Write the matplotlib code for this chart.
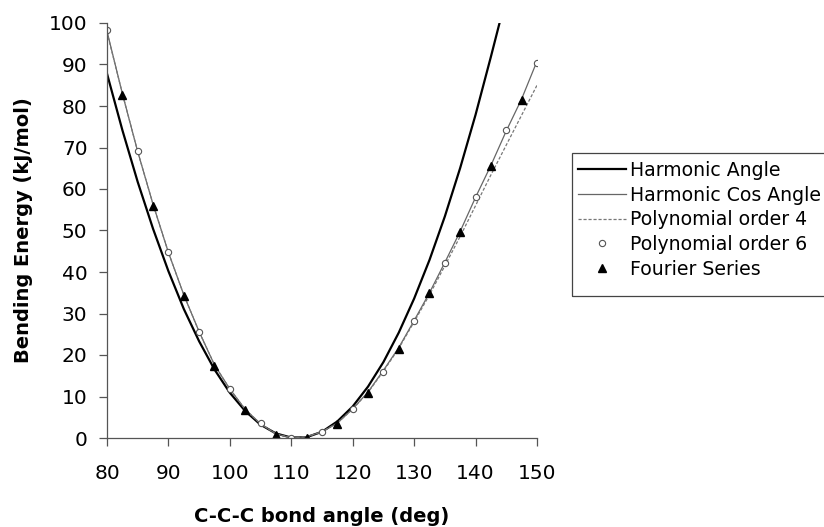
import matplotlib
matplotlib.use("Agg")
import matplotlib.pyplot as plt
from matplotlib.patches import Rectangle

# bond angle grid for the smooth curves (deg)
angle = [80, 82.5, 85, 87.5, 90, 92.5, 95, 97.5, 100, 102.5, 105, 107.5, 110,
         112.5, 115, 117.5, 120, 122.5, 125, 127.5, 130, 132.5, 135, 137.5,
         140, 142.5, 145, 147.5, 150]

harm_angle_x = angle[:26] + [143.9]
harm_angle = [87.8, 74.2, 61.7, 50.4, 40.2, 31.1, 23.3, 16.5, 10.9, 6.5, 3.2,
              1.1, 0.1, 0.2, 1.5, 4.0, 7.6, 12.4, 18.3, 25.4, 33.6, 42.9, 53.4,
              65.1, 77.9, 91.9, 100.0]

harm_cos = [98.0, 83.0, 69.0, 56.3, 44.7, 34.5, 25.6, 17.6, 11.8, 6.9, 3.4,
            1.0, 0.05, 0.3, 1.5, 3.6, 7.0, 11.1, 16.3, 21.8, 28.3, 35.0, 42.3,
            49.8, 58.0, 65.7, 74.0, 81.7, 90.8]

poly4 = [97.8, 83.0, 69.0, 56.3, 44.7, 34.5, 25.6, 17.6, 11.8, 6.9, 3.4,
         1.0, 0.05, 0.3, 1.5, 3.6, 7.0, 11.0, 16.1, 21.6, 28.0, 34.5, 41.5,
         48.6, 56.0, 63.4, 70.6, 77.8, 85.0]

# Polynomial order 6 markers
poly6_x = [80, 85, 90, 95, 100, 105, 110, 115, 120, 125, 130, 135, 140, 145, 150]
poly6 = [98.3, 69.2, 44.9, 25.6, 11.7, 3.5, 0.0, 1.4, 7.0, 16.0, 28.2, 42.2,
         58.1, 74.2, 90.3]

# Fourier series markers
fourier_x = [82.5, 87.5, 92.5, 97.5, 102.5, 107.5, 112.5, 117.5, 122.5, 127.5,
             132.5, 137.5, 142.5, 147.5]
fourier = [82.7, 56.0, 34.3, 17.4, 6.7, 0.7, 0.1, 3.4, 10.9, 21.4, 34.9,
           49.7, 65.6, 81.4]

plt.rcParams['font.family'] = ['DejaVu Sans']

fig = plt.figure(figsize=(8.24, 5.27), dpi=100)
ax = fig.add_axes([107 / 824, 1 - 438 / 527, 430 / 824, 415 / 527])

ax.plot(harm_angle_x, harm_angle, color='black', lw=1.6, label='Harmonic Angle')
ax.plot(angle, harm_cos, color='#666666', lw=0.9, label='Harmonic Cos Angle')
ax.plot(angle, poly4, color='#777777', lw=0.9, ls=(0, (2.5, 1.5)),
        label='Polynomial order 4')
ax.plot(poly6_x, poly6, ls='none', marker='o', ms=4.5, mfc='white',
        mec='#555555', mew=0.8, label='Polynomial order 6')
ax.plot(fourier_x, fourier, ls='none', marker='^', ms=6, color='black',
        label='Fourier Series')

ax.set_xlim(80, 150)
ax.set_ylim(0, 100)
ax.set_xticks(range(80, 151, 10))
ax.set_yticks(range(0, 101, 10))
for side in ['top', 'right']:
    ax.spines[side].set_visible(False)
for side in ['left', 'bottom']:
    ax.spines[side].set_color('#555555')
    ax.spines[side].set_linewidth(0.9)
ax.tick_params(axis='both', direction='out', length=6, width=0.9,
               color='#555555', labelsize=14.5)
ax.tick_params(axis='x', pad=13)
ax.tick_params(axis='y', pad=8)

ax.set_xlabel('C-C-C bond angle (deg)', fontsize=14, fontweight='bold')
ax.set_ylabel('Bending Energy (kJ/mol)', fontsize=14, fontweight='bold')
ax.xaxis.set_label_coords(0.5, -0.166)
ax.yaxis.set_label_coords(-0.172, 0.5)

# legend box (drawn separately: the frame runs past the right edge)
fig.patches.append(Rectangle((572 / 824, 1 - 296 / 527), 260 / 824, 143 / 527,
                             transform=fig.transFigure, fill=False,
                             edgecolor='#444444', linewidth=0.9))
leg = fig.legend(loc='upper left', bbox_to_anchor=(578 / 824, 1 - 161 / 527),
                 fontsize=13.6, frameon=False, handlelength=2.55,
                 handletextpad=0.2, labelspacing=0.3, borderpad=0,
                 borderaxespad=0)

fig.savefig('out.png', dpi=100)
